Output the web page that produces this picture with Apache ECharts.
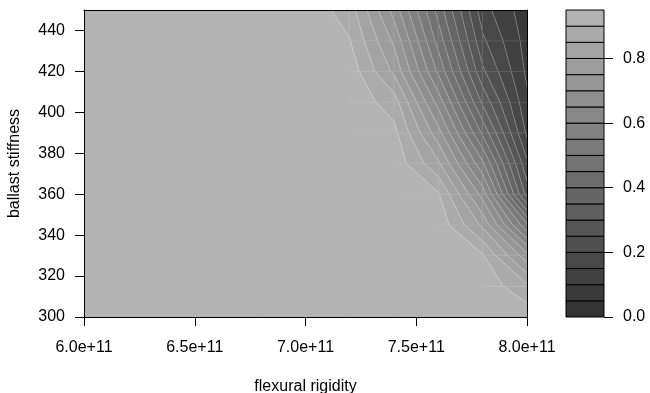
<!DOCTYPE html>
<html><head><meta charset="utf-8">
<script src="https://cdn.jsdelivr.net/npm/echarts@6/dist/echarts.min.js"></script>
<style>html,body{margin:0;padding:0;background:#fff}#c{width:650px;height:393px}</style>
</head><body><div id="c"></div>
<script>
// ---- data ----
const xValues = [6.0e11, 6.2e11, 6.4e11, 6.6e11, 6.8e11, 7.0e11, 7.2e11, 7.4e11, 7.6e11, 7.8e11, 8.0e11];
const yValues = [300, 315, 330, 345, 360, 375, 390, 405, 420, 435, 450];
// z values along x for each ballast stiffness row
const z300 = [0.935, 0.935, 0.935, 0.935, 0.935, 0.935, 0.935, 0.935, 0.935, 0.935, 0.935];
const z315 = [0.935, 0.935, 0.935, 0.935, 0.935, 0.935, 0.935, 0.935, 0.935, 0.935, 0.86];
const z330 = [0.935, 0.935, 0.935, 0.935, 0.935, 0.935, 0.935, 0.935, 0.935, 0.905, 0.72];
const z345 = [0.935, 0.935, 0.935, 0.935, 0.935, 0.935, 0.935, 0.935, 0.935, 0.79, 0.51];
const z360 = [0.935, 0.935, 0.935, 0.935, 0.935, 0.935, 0.935, 0.935, 0.905, 0.68, 0.28];
const z375 = [0.935, 0.935, 0.935, 0.935, 0.935, 0.935, 0.935, 0.935, 0.81, 0.56, 0.21];
const z390 = [0.935, 0.935, 0.935, 0.935, 0.935, 0.935, 0.935, 0.915, 0.72, 0.44, 0.14];
const z405 = [0.935, 0.935, 0.935, 0.935, 0.935, 0.935, 0.935, 0.875, 0.63, 0.34, 0.11];
const z420 = [0.935, 0.935, 0.935, 0.935, 0.935, 0.935, 0.93, 0.79, 0.54, 0.26, 0.09];
const z435 = [0.935, 0.935, 0.935, 0.935, 0.935, 0.935, 0.902, 0.74, 0.48, 0.21, 0.08];
const z450 = [0.935, 0.935, 0.935, 0.935, 0.935, 0.935, 0.875, 0.68, 0.43, 0.17, 0.07];
const levels = [0, 0.05, 0.1, 0.15, 0.2, 0.25, 0.3, 0.35, 0.4, 0.45, 0.5, 0.55, 0.6, 0.65, 0.7, 0.75, 0.8, 0.85, 0.9, 0.95];
const xTicks = [6.0e11, 6.5e11, 7.0e11, 7.5e11, 8.0e11];
const yTicks = [300, 320, 340, 360, 380, 400, 420, 440];
const keyTicks = [0, 0.2, 0.4, 0.6, 0.8];

const zGrid = [z300, z315, z330, z345, z360, z375, z390, z405, z420, z435, z450];

// grey palette (linear ramp)
const nBands = levels.length - 1;
function greyRamp(n, start, end) {
  const out = [];
  for (let k = 0; k < n; k++) {
    const c = Math.round((start + (end - start) * k / (n - 1)) * 255);
    out.push('rgb(' + c + ',' + c + ',' + c + ')');
  }
  return out;
}
const palette = greyRamp(nBands, 0.2, 0.7);

function bandOf(z) {
  for (let k = 0; k < nBands; k++) if (z >= levels[k] && z < levels[k + 1]) return k;
  return z < levels[0] ? 0 : nBands - 1;
}
function cellTrivial(i, j) {
  const b = [zGrid[j][i], zGrid[j][i + 1], zGrid[j + 1][i], zGrid[j + 1][i + 1]].map(bandOf);
  return b.every(v => v === b[0]);
}

const nx = xValues.length - 1, ny = yValues.length - 1;
const cells = [];
for (let j = 0; j < ny; j++)
  for (let i = 0; i < nx; i++)
    cells.push([xValues[i], yValues[j], i, j]);

const SEAM = 'rgba(255,255,255,0.32)';
function renderCell(params, api) {
  const i = api.value(2), j = api.value(3);
  const idx = [[i, j], [i + 1, j], [i + 1, j + 1], [i, j + 1]];
  const pts = idx.map(([a, b]) => ({ x: xValues[a], y: yValues[b], z: zGrid[b][a] }));
  const bands = pts.map(p => bandOf(p.z));
  const bMin = Math.min.apply(null, bands), bMax = Math.max.apply(null, bands);
  const children = [];
  if (bMin === bMax) {
    children.push({
      type: 'polygon',
      shape: { points: pts.map(p => api.coord([p.x, p.y])) },
      style: { fill: palette[bMin], stroke: palette[bMin], lineWidth: 1 }
    });
    return { type: 'group', children };
  }
  for (let k = bMin; k <= bMax; k++) {
    const lo = levels[k], hi = levels[k + 1];
    const poly = [];
    for (let e = 0; e < 4; e++) {
      const p = pts[e], q = pts[(e + 1) % 4];
      if (p.z >= lo && p.z < hi) poly.push([p.x, p.y]);
      const ts = [];
      [lo, hi].forEach(L => {
        if ((p.z - L) * (q.z - L) < 0) ts.push((L - p.z) / (q.z - p.z));
      });
      ts.sort((a, b) => a - b);
      ts.forEach(t => poly.push([p.x + (q.x - p.x) * t, p.y + (q.y - p.y) * t]));
    }
    if (poly.length >= 3) {
      children.push({
        type: 'polygon',
        shape: { points: poly.map(v => api.coord(v)) },
        style: { fill: palette[k], stroke: palette[k], lineWidth: 0.5 }
      });
    }
  }
  // contour line segments (light, like anti-aliasing seams)
  for (let l = 1; l < levels.length; l++) {
    const L = levels[l];
    const cross = [];
    for (let e = 0; e < 4; e++) {
      const p = pts[e], q = pts[(e + 1) % 4];
      if ((p.z - L) * (q.z - L) < 0) {
        const t = (L - p.z) / (q.z - p.z);
        cross.push(api.coord([p.x + (q.x - p.x) * t, p.y + (q.y - p.y) * t]));
      }
    }
    for (let s = 0; s + 1 < cross.length; s += 2) {
      children.push({ type: 'polyline', shape: { points: [cross[s], cross[s + 1]] },
        style: { stroke: SEAM, lineWidth: 0.8, fill: null } });
    }
  }
  // seams between neighbouring split cells
  if (i + 1 < nx && !cellTrivial(i + 1, j)) {
    children.push({ type: 'polyline', shape: { points: [api.coord([pts[1].x, pts[1].y]), api.coord([pts[2].x, pts[2].y])] },
      style: { stroke: SEAM, lineWidth: 0.8, fill: null } });
  }
  if (j + 1 < ny && !cellTrivial(i, j + 1)) {
    children.push({ type: 'polyline', shape: { points: [api.coord([pts[3].x, pts[3].y]), api.coord([pts[2].x, pts[2].y])] },
      style: { stroke: SEAM, lineWidth: 0.8, fill: null } });
  }
  return { type: 'group', children };
}

const keyData = [];
for (let k = 0; k < nBands; k++) keyData.push([0.5, levels[k], k]);

function renderKey(params, api) {
  const k = api.value(2);
  const p1 = api.coord([0, levels[k + 1]]);
  const p2 = api.coord([1, levels[k]]);
  return {
    type: 'rect',
    shape: { x: p1[0], y: p1[1], width: p2[0] - p1[0], height: p2[1] - p1[1] },
    style: { fill: palette[k], stroke: '#000', lineWidth: 1 }
  };
}

const FONT = "'Liberation Sans', Arial, Helvetica, sans-serif";
const txt = { color: '#000', fontSize: 16, fontFamily: FONT };

const chart = echarts.init(document.getElementById('c'), null, { renderer: 'canvas' });
chart.setOption({
  animation: false,
  backgroundColor: '#fff',
  grid: [
    { left: 84, right: 123, top: 10, bottom: 76, outerBoundsMode: 'none', containLabel: false },
    { left: 566, right: 46, top: 10, bottom: 76, outerBoundsMode: 'none', containLabel: false }
  ],
  xAxis: [
    {
      gridIndex: 0, type: 'value', min: 6.0e11, max: 8.0e11, z: 5,
      name: 'flexural rigidity', nameLocation: 'middle', nameGap: 62,
      nameTextStyle: txt,
      axisLine: { show: true, onZero: false, lineStyle: { color: '#000', width: 1 } },
      axisTick: { show: true, length: 9, customValues: xTicks, lineStyle: { color: '#000' } },
      axisLabel: Object.assign({ customValues: xTicks, margin: 23,
        formatter: v => (v / 1e11).toFixed(1) + 'e+11' }, txt),
      splitLine: { show: false }
    },
    {
      gridIndex: 0, type: 'value', position: 'top', min: 6.0e11, max: 8.0e11, z: 5,
      axisLine: { show: true, onZero: false, lineStyle: { color: '#000', width: 1 } },
      axisTick: { show: false }, axisLabel: { show: false }, splitLine: { show: false }
    },
    {
      gridIndex: 1, type: 'value', min: 0, max: 1, show: false,
      axisLine: { show: false, onZero: false }, axisTick: { show: false }, axisLabel: { show: false }, splitLine: { show: false }
    }
  ],
  yAxis: [
    {
      gridIndex: 0, type: 'value', min: 300, max: 450, z: 5,
      name: 'ballast stiffness', nameLocation: 'middle', nameGap: 61, nameRotate: 90,
      nameTextStyle: txt,
      axisLine: { show: true, onZero: false, lineStyle: { color: '#000', width: 1 } },
      axisTick: { show: true, length: 9, customValues: yTicks, lineStyle: { color: '#000' } },
      axisLabel: Object.assign({ customValues: yTicks, margin: 19 }, txt),
      splitLine: { show: false }
    },
    {
      gridIndex: 0, type: 'value', position: 'right', min: 300, max: 450, z: 5,
      axisLine: { show: true, onZero: false, lineStyle: { color: '#000', width: 1 } },
      axisTick: { show: false }, axisLabel: { show: false }, splitLine: { show: false }
    },
    {
      gridIndex: 1, type: 'value', position: 'right', min: 0, max: 0.95, z: 5,
      axisLine: { show: false, onZero: false },
      axisTick: { show: true, length: 9, customValues: keyTicks, lineStyle: { color: '#000' } },
      axisLabel: Object.assign({ customValues: keyTicks, margin: 19,
        formatter: v => v.toFixed(1) }, txt),
      splitLine: { show: false }
    }
  ],
  series: [
    {
      type: 'custom', xAxisIndex: 0, yAxisIndex: 0, z: 1, clip: true,
      renderItem: renderCell, data: cells, silent: true
    },
    {
      type: 'custom', xAxisIndex: 2, yAxisIndex: 2, z: 1,
      renderItem: renderKey, data: keyData, silent: true
    }
  ]
});
</script>
</body></html>
